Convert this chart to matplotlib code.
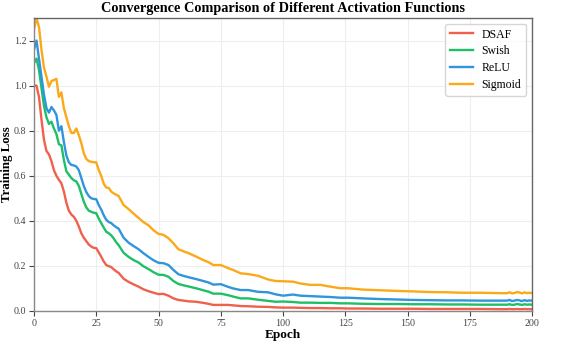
import matplotlib
matplotlib.use("Agg")
import matplotlib.pyplot as plt

# epochs (denser where the curves move quickly)
epochs = [0, 1, 2, 3, 4, 5, 6, 7, 8, 9, 10, 11, 12, 13, 14, 15, 16, 17, 18, 19,
          20, 21, 22, 23, 24, 25, 26, 27, 28, 29, 30, 31, 32, 33, 34, 36, 38, 40,
          42, 44, 46, 48, 50, 52, 54, 56, 58, 60, 62, 65, 68, 70, 72, 75, 78, 80,
          83, 86, 90, 94, 97, 100, 104, 107, 111, 115, 119, 123, 126, 132, 139,
          146, 152, 159, 166, 172, 179, 188, 190, 191, 192, 193, 194, 195, 196,
          197, 198, 199, 200]

sigmoid = [1.25, 1.30, 1.26, 1.16, 1.08, 1.04, 0.995, 1.02, 1.025, 1.03, 0.95, 0.97,
           0.90, 0.86, 0.82, 0.79, 0.79, 0.81, 0.78, 0.745, 0.70, 0.675, 0.665, 0.662,
           0.66, 0.66, 0.625, 0.60, 0.565, 0.548, 0.546, 0.53, 0.522, 0.516, 0.51,
           0.47, 0.452, 0.432, 0.413, 0.394, 0.38, 0.358, 0.342, 0.338, 0.323, 0.30,
           0.274, 0.265, 0.257, 0.242, 0.226, 0.217, 0.204, 0.204, 0.19, 0.182, 0.167,
           0.164, 0.156, 0.14, 0.133, 0.132, 0.13, 0.122, 0.116, 0.116, 0.108, 0.101,
           0.101, 0.095, 0.092, 0.089, 0.087, 0.084, 0.083, 0.081, 0.081, 0.079,
           0.079, 0.083, 0.078, 0.080, 0.084, 0.082, 0.078, 0.083, 0.079, 0.081, 0.080]

relu = [1.16, 1.20, 1.12, 1.04, 0.96, 0.90, 0.88, 0.905, 0.89, 0.87, 0.80, 0.82,
        0.75, 0.69, 0.66, 0.648, 0.646, 0.641, 0.625, 0.59, 0.555, 0.528, 0.51, 0.50,
        0.497, 0.496, 0.47, 0.45, 0.425, 0.405, 0.395, 0.39, 0.38, 0.372, 0.365,
        0.325, 0.303, 0.288, 0.274, 0.256, 0.24, 0.225, 0.214, 0.212, 0.204, 0.182,
        0.163, 0.156, 0.15, 0.142, 0.133, 0.127, 0.117, 0.119, 0.107, 0.10, 0.093,
        0.093, 0.085, 0.083, 0.074, 0.068, 0.073, 0.068, 0.066, 0.064, 0.062, 0.059,
        0.059, 0.056, 0.053, 0.051, 0.049, 0.048, 0.047, 0.047, 0.046, 0.046,
        0.046, 0.049, 0.044, 0.046, 0.049, 0.047, 0.044, 0.048, 0.045, 0.047, 0.046]

swish = [1.10, 1.12, 1.07, 0.99, 0.91, 0.86, 0.83, 0.84, 0.81, 0.785, 0.74, 0.735,
         0.67, 0.62, 0.605, 0.59, 0.58, 0.575, 0.555, 0.52, 0.485, 0.46, 0.445, 0.44,
         0.436, 0.434, 0.41, 0.39, 0.37, 0.352, 0.345, 0.336, 0.322, 0.305, 0.292,
         0.258, 0.24, 0.226, 0.215, 0.198, 0.186, 0.172, 0.161, 0.16, 0.152, 0.133,
         0.12, 0.114, 0.109, 0.101, 0.092, 0.086, 0.077, 0.077, 0.07, 0.064, 0.056,
         0.056, 0.05, 0.045, 0.041, 0.042, 0.04, 0.037, 0.037, 0.036, 0.036, 0.034,
         0.034, 0.032, 0.031, 0.031, 0.030, 0.030, 0.029, 0.029, 0.028, 0.028,
         0.028, 0.030, 0.027, 0.028, 0.031, 0.029, 0.027, 0.030, 0.028, 0.029, 0.028]

dsaf = [1.00, 1.00, 0.95, 0.85, 0.76, 0.71, 0.695, 0.665, 0.625, 0.60, 0.582, 0.567,
        0.53, 0.48, 0.445, 0.428, 0.418, 0.40, 0.375, 0.345, 0.325, 0.31, 0.295, 0.286,
        0.28, 0.279, 0.26, 0.241, 0.22, 0.204, 0.199, 0.195, 0.185, 0.176, 0.169,
        0.143, 0.129, 0.118, 0.108, 0.096, 0.088, 0.081, 0.075, 0.076, 0.068, 0.056,
        0.049, 0.046, 0.043, 0.041, 0.036, 0.032, 0.027, 0.027, 0.027, 0.025, 0.022,
        0.021, 0.019, 0.018, 0.016, 0.015, 0.015, 0.014, 0.013, 0.013, 0.012, 0.012,
        0.011, 0.011, 0.010, 0.010, 0.010, 0.009, 0.009, 0.009, 0.009, 0.008,
        0.008, 0.009, 0.008, 0.008, 0.009, 0.008, 0.008, 0.009, 0.008, 0.008, 0.008]

plt.rcParams['font.family'] = ['Liberation Serif', 'DejaVu Serif']

fig = plt.figure(figsize=(5.63, 3.49), dpi=100)
ax = fig.add_axes([34 / 563, 1 - 311 / 349, (532 - 34) / 563, (311 - 18) / 349])

ax.plot(epochs, dsaf, color="#f0604d", lw=1.7, label="DSAF")
ax.plot(epochs, swish, color="#1fbf68", lw=1.7, label="Swish")
ax.plot(epochs, relu, color="#2f95dc", lw=1.7, label="ReLU")
ax.plot(epochs, sigmoid, color="#fba918", lw=1.7, label="Sigmoid")

ax.set_xlim(0, 200)
ax.set_ylim(0, 1.3)
ax.set_xticks([0, 25, 50, 75, 100, 125, 150, 175, 200])
ax.set_yticks([0.0, 0.2, 0.4, 0.6, 0.8, 1.0, 1.2])
ax.grid(True, color="#eeeeee", lw=0.8)
ax.set_axisbelow(True)

for side in ["left", "bottom"]:
    ax.spines[side].set_color("#888888")
for side in ["top", "right"]:
    ax.spines[side].set_color("#666666")
for sp in ax.spines.values():
    sp.set_linewidth(1.0)
ax.tick_params(colors="#444444", labelsize=7.2, length=3.5, width=0.8, pad=2)

ax.set_title("Convergence Comparison of Different Activation Functions",
             fontsize=10.3, fontweight="bold", pad=4)
ax.set_xlabel("Epoch", fontsize=9.5, fontweight="bold", labelpad=1)
ax.set_ylabel("Training Loss", fontsize=9.3, fontweight="bold", va="center")
ax.yaxis.set_label_coords(-0.055, 0.5)

leg = ax.legend(loc="upper right", fontsize=8.5, frameon=True, fancybox=True,
                handlelength=2.0, handletextpad=0.7, borderpad=0.4,
                labelspacing=0.4)
leg.get_frame().set_edgecolor("#cccccc")

fig.savefig("out.png", dpi=100)
